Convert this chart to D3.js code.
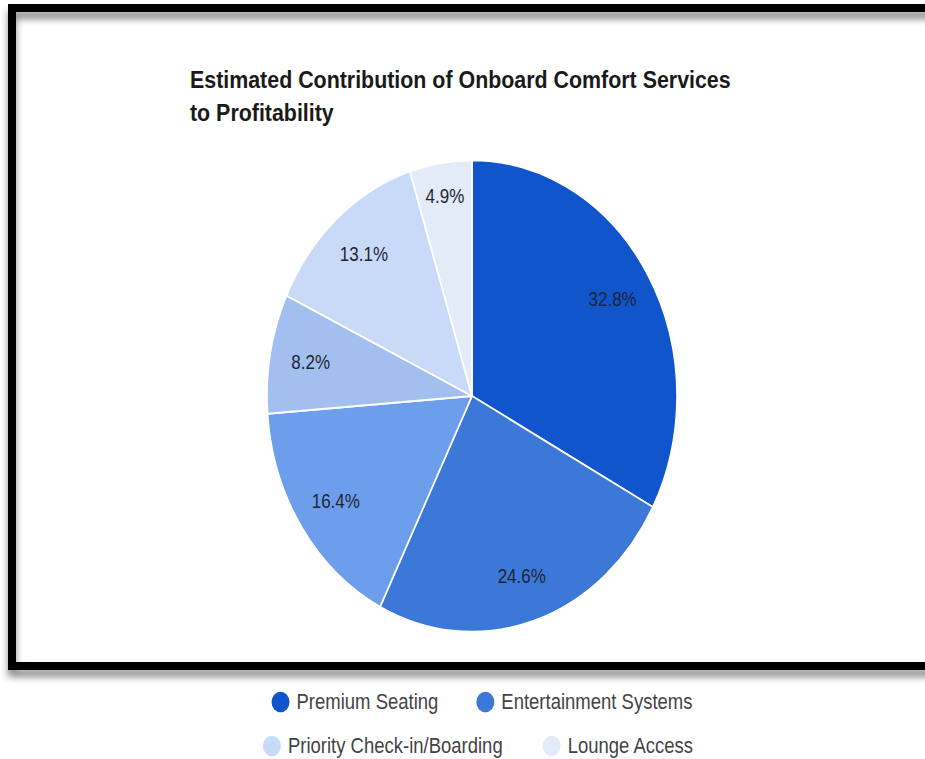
<!DOCTYPE html>
<html>
<head>
<meta charset="utf-8">
<script src="https://cdn.jsdelivr.net/npm/d3@7"></script>
<style>
  html, body { margin: 0; padding: 0; background: #ffffff; }
  svg { display: block; }
</style>
</head>
<body>
<svg id="chart" width="925" height="759"></svg>
<script>
// Service categories and their estimated share of profitability (%)
const categories = [
  "Premium Seating",
  "Entertainment Systems",
  "In-flight Dining",
  "Wi-Fi Connectivity",
  "Priority Check-in/Boarding",
  "Lounge Access"
];
const shares = [32.8, 24.6, 16.4, 8.2, 13.1, 4.9];
const sliceColors = ["#1155cc", "#3c78d8", "#6d9eeb", "#a2bff0", "#c9daf8", "#e4ebf8"];
// Entries listed in the legend, two rows
const legendRows = [
  ["Premium Seating", "Entertainment Systems"],
  ["Priority Check-in/Boarding", "Lounge Access"]
];
const titleLines = ["Estimated Contribution of Onboard Comfort Services", "to Profitability"];

const W = 925, H = 759;
const stretchY = 1.15;
const svg = d3.select("#chart");

// Frame with drop shadow
const defs = svg.append("defs");
const shadow = defs.append("filter").attr("id", "frameShadow")
  .attr("x", "-5%").attr("y", "-5%").attr("width", "110%").attr("height", "115%");
shadow.append("feDropShadow")
  .attr("dx", 0).attr("dy", 7).attr("stdDeviation", 3.5)
  .attr("flood-color", "#000").attr("flood-opacity", 0.45);

svg.append("rect")
  .attr("x", 12).attr("y", 8)
  .attr("width", 960).attr("height", 658)
  .attr("fill", "none")
  .attr("stroke", "#000")
  .attr("stroke-width", 8)
  .attr("filter", "url(#frameShadow)");

// Everything below is drawn in a vertically stretched space
const g = svg.append("g").attr("transform", `scale(1,${stretchY})`);

// Title
const title = g.append("text")
  .attr("x", 190)
  .attr("font-family", "'Liberation Sans', Arial, sans-serif")
  .attr("font-weight", "bold")
  .attr("font-size", 21.4)
  .attr("fill", "#1a1a1a");
titleLines.forEach((t, i) => {
  title.append("tspan").attr("x", 190).attr("y", 76.5 + i * 29).text(t);
});

// Pie
const cx = 472, cy = 396 / stretchY, R = 205;
const data = categories.map((c, i) => ({ name: c, value: shares[i], color: sliceColors[i] }));
const pie = d3.pie().value(d => d.value).sort(null);
const arc = d3.arc().innerRadius(0).outerRadius(R);
const color = d3.scaleOrdinal().domain(categories).range(sliceColors);

const pg = g.append("g").attr("transform", `translate(${cx},${cy})`);
const arcs = pie(data);

pg.selectAll("path.slice")
  .data(arcs)
  .join("path")
  .attr("class", "slice")
  .attr("d", arc)
  .attr("fill", d => color(d.data.name))
  .attr("stroke", "#ffffff")
  .attr("stroke-width", 1.6)
  .attr("stroke-linejoin", "round");

// Narrow slices get their label pushed a little further out
pg.selectAll("text.pct")
  .data(arcs)
  .join("text")
  .attr("class", "pct")
  .attr("transform", d => {
    const k = (d.endAngle - d.startAngle) < 0.35 ? 0.86 : 0.8;
    const a = (d.startAngle + d.endAngle) / 2;
    return `translate(${Math.sin(a) * R * k},${-Math.cos(a) * R * k})`;
  })
  .attr("text-anchor", "middle")
  .attr("dominant-baseline", "central")
  .attr("font-family", "'Liberation Sans', Arial, sans-serif")
  .attr("font-size", 17)
  .attr("fill", "#1f2533")
  .text(d => d.data.value.toFixed(1) + "%");

// Legend
const legendFont = 18.5;
const legendCenterX = [482, 478];
const legendY = [702 / stretchY, 746 / stretchY];
const dotR = 9, dotGap = 7, itemGap = [38, 40];

const measure = g.append("text")
  .attr("font-family", "'Liberation Sans', Arial, sans-serif")
  .attr("font-size", legendFont)
  .attr("visibility", "hidden");
function textWidth(s) {
  measure.text(s);
  return measure.node().getComputedTextLength();
}

legendRows.forEach((row, ri) => {
  const widths = row.map(n => dotR * 2 + dotGap + textWidth(n));
  const total = d3.sum(widths) + itemGap[ri] * (row.length - 1);
  let x = legendCenterX[ri] - total / 2;
  row.forEach((name, i) => {
    const item = g.append("g").attr("transform", `translate(${x},${legendY[ri]})`);
    item.append("circle")
      .attr("cx", dotR).attr("cy", 0).attr("r", dotR)
      .attr("fill", color(name));
    item.append("text")
      .attr("x", dotR * 2 + dotGap)
      .attr("y", 0)
      .attr("dominant-baseline", "central")
      .attr("font-family", "'Liberation Sans', Arial, sans-serif")
      .attr("font-size", legendFont)
      .attr("fill", "#444444")
      .text(name);
    x += widths[i] + itemGap[ri];
  });
});
measure.remove();
</script>
</body>
</html>
